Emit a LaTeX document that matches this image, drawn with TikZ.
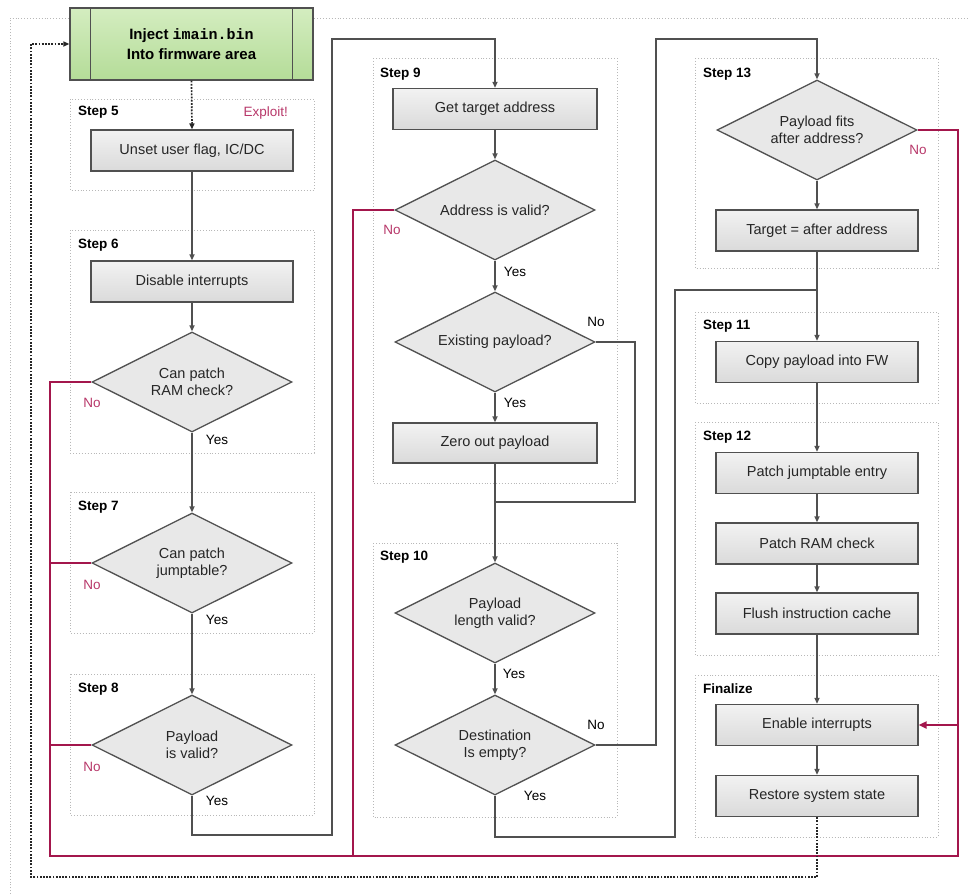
\documentclass[tikz,border=0pt]{standalone}
\usepackage{fontspec}
\setmainfont{Liberation Sans}
\newfontfamily\monof{Liberation Mono}
\usetikzlibrary{shapes.geometric,arrows.meta}
\definecolor{lnc}{HTML}{505050}
\definecolor{redc}{HTML}{A3164C}
\definecolor{nored}{HTML}{B8386A}
\definecolor{grpc}{HTML}{B8B8B8}
\definecolor{fillhi}{HTML}{F2F2F2}
\definecolor{filllo}{HTML}{DADADA}
\definecolor{greenhi}{HTML}{D4EDC0}
\definecolor{greenlo}{HTML}{B4DC98}
\tikzset{
  txt/.style={font=\fontsize{14.5}{17}\selectfont, text=black!85},
  proc/.style={txt, rectangle, draw=lnc, line width=1.3pt, top color=fillhi, bottom color=filllo,
    minimum width=202pt, minimum height=41pt, inner sep=0pt},
  dec/.style={txt, diamond, draw=lnc, line width=1.3pt, fill=black!9, shape aspect=2,
    minimum width=200pt, minimum height=100pt, inner sep=0pt, align=center},
  grp/.style={draw=grpc, line width=0.9pt, dotted},
  steplbl/.style={font=\bfseries\fontsize{13.5}{16}\selectfont, anchor=west, inner sep=0pt},
  yes/.style={font=\fontsize{13.5}{16}\selectfont, inner sep=0pt},
  nolbl/.style={font=\fontsize{13.5}{16}\selectfont, inner sep=0pt, text=nored},
  flow/.style={draw=lnc, line width=1.5pt, -{Triangle[length=6pt,width=5pt]}},
  flowline/.style={draw=lnc, line width=1.5pt},
  redl/.style={draw=redc, line width=2pt},
  reda/.style={draw=redc, line width=2pt, -{Triangle[length=8pt,width=7pt]}},
  dots/.style={draw=black!85, line width=1.7pt, dash pattern=on 1.8pt off 1.4pt},
  dotsa/.style={dots, -{Triangle[length=6pt,width=5pt]}},
}
\begin{document}
\begin{tikzpicture}[x=1pt,y=-1pt]
\useasboundingbox (0,0) rectangle (968,894);
\fill[white] (0,0) rectangle (968,894);
% outer dotted frame
\draw[draw=grpc, line width=0.9pt, dotted] (10,894) -- (10,18) -- (968,18);

% group boxes
\draw[grp] (70,99) rectangle (314,190);
\draw[grp] (70,230) rectangle (314,453);
\draw[grp] (70,492) rectangle (314,633);
\draw[grp] (70,674) rectangle (314,815);
\draw[grp] (373,58) rectangle (617,483);
\draw[grp] (373,543) rectangle (617,817);
\draw[grp] (695,58) rectangle (938,268);
\draw[grp] (695,312) rectangle (938,403);
\draw[grp] (695,422) rectangle (938,655);
\draw[grp] (695,675) rectangle (938,837);

\node[steplbl] (s5) at (78,112) {Step 5};
\node[nolbl, anchor=east] (exploit) at (288,113) {Exploit!};
\node[steplbl] (s6) at (78,245) {Step 6};
\node[steplbl] (s7) at (78,507) {Step 7};
\node[steplbl] (s8) at (78,689) {Step 8};
\node[steplbl] (s9) at (380,74) {Step 9};
\node[steplbl] (s10) at (380,557) {Step 10};
\node[steplbl] (s13) at (703,74) {Step 13};
\node[steplbl] (s11) at (703,326) {Step 11};
\node[steplbl] (s12) at (703,437) {Step 12};
\node[steplbl] (sfin) at (703,689) {Finalize};

% nodes
\node[rectangle, draw=lnc, line width=1.3pt, top color=greenhi, bottom color=greenlo,
  minimum width=243pt, minimum height=72pt, inner sep=0pt, align=center,
  font=\bfseries\fontsize{15}{20}\selectfont] (inj) at (191.5,44)
  {Inject {\monof\bfseries imain.bin}\\Into firmware area};
\draw[draw=lnc, line width=1.3pt] ([xshift=21pt]inj.north west) -- ([xshift=21pt]inj.south west);
\draw[draw=lnc, line width=1.3pt] ([xshift=-21pt]inj.north east) -- ([xshift=-21pt]inj.south east);

\node[proc] (unset) at (192,150.5) {Unset user flag, IC/DC};
\node[proc] (disable) at (192,281.5) {Disable interrupts};
\node[dec] (d1) at (192,382) {Can patch\\RAM check?};
\node[dec] (d2) at (192,563) {Can patch\\jumptable?};
\node[dec] (d3) at (192,745) {Payload\\is valid?};

\node[proc, minimum width=204pt] (gett) at (495,109) {Get target address};
\node[dec] (d4) at (495,210) {Address is valid?};
\node[dec] (d5) at (495,342) {Existing payload?};
\node[proc, minimum width=204pt, minimum height=40pt] (zero) at (495,443) {Zero out payload};
\node[dec] (d6) at (495,613) {Payload\\length valid?};
\node[dec] (d7) at (495,745) {Destination\\Is empty?};

\node[dec] (d8) at (817,130) {Payload fits\\after address?};
\node[proc] (target) at (817,230.5) {Target = after address};
\node[proc] (copy) at (817,362) {Copy payload into FW};
\node[proc] (pjt) at (817,473) {Patch jumptable entry};
\node[proc] (pram) at (817,543.5) {Patch RAM check};
\node[proc] (flush) at (817,613.5) {Flush instruction cache};
\node[proc] (enable) at (817,725) {Enable interrupts};
\node[proc] (restore) at (817,796) {Restore system state};

% coordinates
\coordinate (a1) at (192,835);
\coordinate (a2) at (332,835);
\coordinate (a3) at (332,39);
\coordinate (a4) at (495,39);
\coordinate (b1) at (635,342);
\coordinate (b2) at (635,502);
\coordinate (b3) at (495,502);
\coordinate (c1) at (656,745);
\coordinate (c2) at (656,39);
\coordinate (c3) at (817,39);
\coordinate (e1) at (495,837);
\coordinate (e2) at (675,837);
\coordinate (e3) at (675,290);
\coordinate (e4) at (817,290);
\coordinate (r1) at (50,382);
\coordinate (r2) at (50,563);
\coordinate (r3) at (50,745);
\coordinate (r4) at (50,856);
\coordinate (r5) at (958,856);
\coordinate (r6) at (958,725);
\coordinate (r7) at (353,210);
\coordinate (r8) at (353,856);
\coordinate (r9) at (958,130);
\coordinate (f1) at (817,877);
\coordinate (f2) at (31,877);
\coordinate (f3) at (31,44);

% red "No" paths
\draw[redl] (d1.west) -- (r1) -- (r4) -- (r5) -- (r6);
\draw[redl] (d2.west) -- (r2);
\draw[redl] (d3.west) -- (r3);
\draw[redl] (d4.west) -- (r7) -- (r8);
\draw[redl] (d8.east) -- (r9) -- (r6);
\draw[reda] (r6) -- (enable.east);

% dotted return
\draw[dotsa] (restore.south) -- (f1) -- (f2) -- (f3) -- (inj.west);
\draw[dotsa] (inj.south) -- (unset.north);

% gray flow
\draw[flow] (unset) -- (disable);
\draw[flow] (disable) -- (d1);
\draw[flow] (d1) -- (d2);
\draw[flow] (d2) -- (d3);
\draw[flow] (d3.south) -- (a1) -- (a2) -- (a3) -- (a4) -- (gett.north);
\draw[flow] (gett) -- (d4);
\draw[flow] (d4) -- (d5);
\draw[flow] (d5) -- (zero);
\draw[flow] (zero) -- (d6);
\draw[flowline] (d5.east) -- (b1) -- (b2) -- (b3);
\draw[flow] (d6) -- (d7);
\draw[flow] (d7.east) -- (c1) -- (c2) -- (c3) -- (d8.north);
\draw[flowline] (d7.south) -- (e1) -- (e2) -- (e3) -- (e4);
\draw[flow] (d8) -- (target);
\draw[flow] (target) -- (copy);
\draw[flow] (copy) -- (pjt);
\draw[flow] (pjt) -- (pram);
\draw[flow] (pram) -- (flush);
\draw[flow] (flush) -- (enable);
\draw[flow] (enable) -- (restore);

% yes / no labels
\node[yes] (y1) at (217,440) {Yes};
\node[yes] (y2) at (217,620) {Yes};
\node[yes] (y3) at (217,801) {Yes};
\node[yes] (y4) at (515,272) {Yes};
\node[yes] (y5) at (515,403) {Yes};
\node[yes] (y6) at (514,674) {Yes};
\node[yes] (y7) at (535,796) {Yes};
\node[nolbl] (n1) at (92,403) {No};
\node[nolbl] (n2) at (92,585) {No};
\node[nolbl] (n3) at (92,767) {No};
\node[nolbl] (n4) at (392,230) {No};
\node[yes] (n5) at (596,322) {No};
\node[yes] (n7) at (596,725) {No};
\node[nolbl] (n8) at (918,150) {No};
\end{tikzpicture}
\end{document}
